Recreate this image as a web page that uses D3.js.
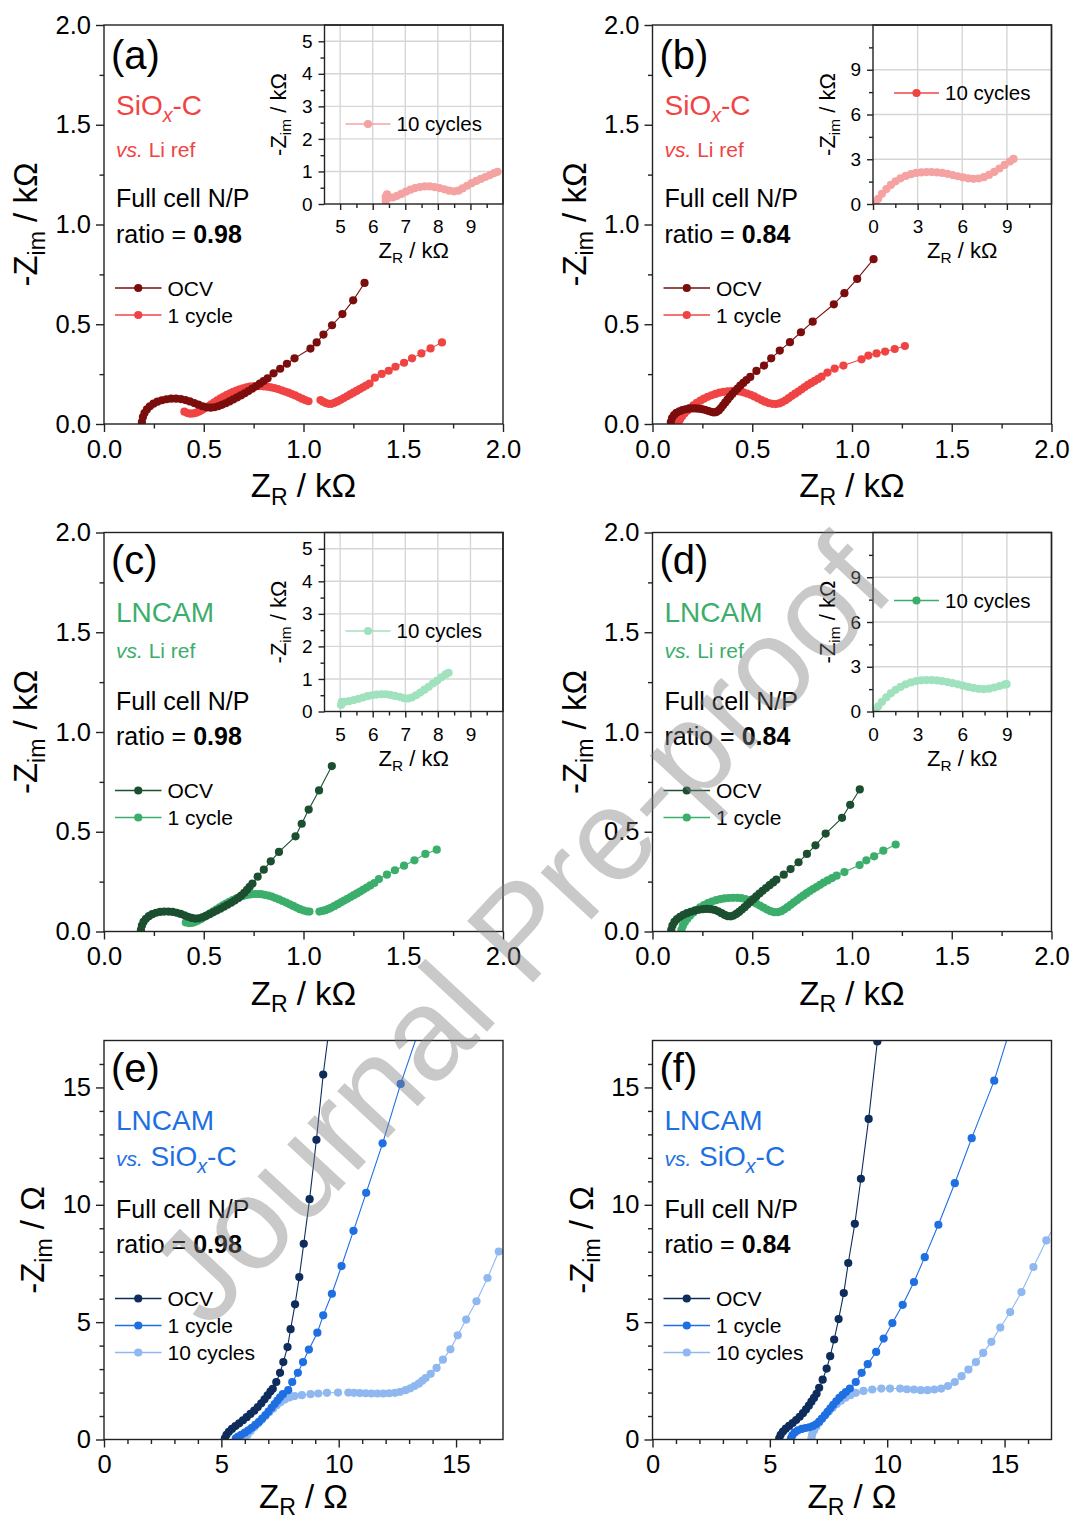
<!DOCTYPE html>
<html><head><meta charset="utf-8">
<script src="https://cdn.jsdelivr.net/npm/d3@7"></script>
<style>
html,body{margin:0;padding:0;background:#fff;}
svg{display:block;}
</style></head><body>
<svg id="chart" width="1074" height="1522"></svg>
<script>
// ---------------- DATA (kΩ for a-d, Ω for e-f) ----------------
const kOhmTicks = [0, 0.5, 1.0, 1.5, 2.0];
const kOhmMinor = [0.25, 0.75, 1.25, 1.75];
const ohmTicks = [0, 5, 10, 15];
const ohmMinor = [1,2,3,4,6,7,8,9,11,12,13,14,16];
const insetACxTicks = [5,6,7,8,9];
const insetACxMinor = [5.5,6.5,7.5,8.5,9.5];
const insetACyTicks = [0,1,2,3,4,5];
const insetACyMinor = [0.5,1.5,2.5,3.5,4.5];
const insetBDTicks = [0,3,6,9];
const insetBDMinor = [1.5,4.5,7.5,10.5];
const seriesNames = ['OCV', '1 cycle', '10 cycles'];

const a_OCV = [[0.190,0.010],[0.195,0.035],[0.203,0.055],[0.215,0.073],[0.230,0.089],[0.248,0.102],[0.268,0.112],[0.290,0.119],[0.313,0.124],[0.337,0.127],[0.361,0.127],[0.385,0.125],[0.408,0.120],[0.430,0.113],[0.452,0.105],[0.473,0.097],[0.494,0.089],[0.514,0.084],[0.534,0.082],[0.553,0.084],[0.572,0.089],[0.591,0.096],[0.610,0.104],[0.629,0.113],[0.648,0.123],[0.667,0.133],[0.686,0.143],[0.705,0.154],[0.724,0.165],[0.743,0.177],[0.762,0.189],[0.781,0.202],[0.800,0.215],[0.820,0.229],[0.850,0.254],[0.883,0.277],[0.917,0.302],[0.955,0.329],[1.035,0.378],[1.066,0.409],[1.100,0.448],[1.143,0.495],[1.195,0.551],[1.249,0.620],[1.306,0.707]];
const a_1cycle = [[0.403,0.062],[0.418,0.055],[0.433,0.052],[0.448,0.053],[0.463,0.057],[0.478,0.063],[0.493,0.071],[0.508,0.080],[0.523,0.089],[0.538,0.099],[0.553,0.109],[0.568,0.119],[0.584,0.128],[0.600,0.137],[0.616,0.146],[0.632,0.154],[0.648,0.161],[0.664,0.168],[0.680,0.174],[0.697,0.179],[0.714,0.184],[0.731,0.187],[0.748,0.189],[0.765,0.190],[0.782,0.190],[0.800,0.189],[0.818,0.187],[0.836,0.184],[0.854,0.180],[0.872,0.175],[0.890,0.169],[0.907,0.163],[0.924,0.157],[0.941,0.150],[0.958,0.143],[0.975,0.135],[0.992,0.127],[1.008,0.120],[1.025,0.114],null,[1.085,0.120],[1.098,0.112],[1.112,0.105],[1.126,0.101],[1.140,0.101],[1.155,0.106],[1.170,0.113],[1.186,0.121],[1.202,0.130],[1.218,0.139],[1.234,0.148],[1.250,0.157],[1.266,0.166],[1.282,0.175],[1.298,0.184],[1.314,0.193],[1.331,0.203],[1.358,0.232],[1.392,0.251],[1.427,0.267],[1.461,0.287],[1.504,0.307],[1.544,0.329],[1.591,0.354],[1.637,0.379],[1.694,0.409]];
const a_10cycles = [[6.40,0.10],[6.40,0.22],[6.44,0.30],[6.52,0.20],[6.62,0.20],[6.75,0.25],[6.88,0.31],[7.02,0.38],[7.16,0.44],[7.30,0.49],[7.45,0.52],[7.60,0.54],[7.75,0.54],[7.90,0.52],[8.05,0.49],[8.20,0.45],[8.35,0.41],[8.50,0.39],[8.63,0.41],[8.76,0.48],[8.90,0.56],[9.04,0.64],[9.18,0.71],[9.32,0.77],[9.46,0.83],[9.60,0.89],[9.73,0.95],[9.83,0.99]];

const b_OCV = [[0.092,0.010],[0.098,0.030],[0.108,0.045],[0.120,0.056],[0.135,0.064],[0.150,0.070],[0.166,0.074],[0.182,0.077],[0.198,0.078],[0.214,0.078],[0.230,0.077],[0.246,0.075],[0.262,0.071],[0.278,0.066],[0.294,0.061],[0.308,0.058],[0.320,0.060],[0.332,0.068],[0.343,0.080],[0.354,0.094],[0.365,0.108],[0.376,0.122],[0.388,0.136],[0.400,0.150],[0.413,0.164],[0.426,0.178],[0.440,0.192],[0.455,0.206],[0.471,0.220],[0.490,0.236],[0.521,0.266],[0.559,0.293],[0.595,0.329],[0.638,0.368],[0.689,0.410],[0.744,0.460],[0.803,0.513],[0.909,0.600],[0.962,0.656],[1.026,0.727],[1.108,0.826]];
const b_1cycle = [[0.130,0.005],[0.138,0.022],[0.148,0.038],[0.160,0.053],[0.174,0.067],[0.189,0.081],[0.205,0.094],[0.222,0.106],[0.240,0.117],[0.258,0.127],[0.277,0.136],[0.296,0.144],[0.316,0.151],[0.336,0.157],[0.356,0.161],[0.376,0.164],[0.396,0.165],[0.416,0.165],[0.436,0.163],[0.455,0.159],[0.474,0.153],[0.492,0.146],[0.510,0.138],[0.528,0.129],[0.546,0.120],[0.564,0.112],[0.582,0.105],[0.600,0.101],[0.618,0.100],[0.635,0.103],[0.651,0.110],[0.667,0.119],[0.683,0.130],[0.699,0.141],[0.715,0.152],[0.731,0.163],[0.747,0.174],[0.763,0.185],[0.779,0.196],[0.796,0.206],[0.813,0.216],[0.830,0.226],[0.848,0.237],[0.877,0.258],[0.913,0.278],[0.957,0.293],[1.048,0.324],[1.082,0.343],[1.123,0.354],[1.166,0.363],[1.214,0.376],[1.265,0.391]];
const b_10cycles = [[0.15,0.05],[0.35,0.35],[0.60,0.68],[0.90,1.00],[1.20,1.28],[1.52,1.52],[1.85,1.72],[2.20,1.88],[2.55,2.00],[2.90,2.08],[3.25,2.12],[3.60,2.14],[3.95,2.14],[4.30,2.12],[4.65,2.08],[5.00,2.02],[5.35,1.94],[5.70,1.86],[6.05,1.78],[6.40,1.72],[6.75,1.69],[7.10,1.71],[7.45,1.80],[7.80,1.95],[8.15,2.15],[8.50,2.38],[8.85,2.62],[9.20,2.85],[9.45,3.02]];

const c_OCV = [[0.185,0.008],[0.190,0.030],[0.198,0.048],[0.210,0.064],[0.225,0.077],[0.242,0.087],[0.261,0.094],[0.281,0.098],[0.302,0.100],[0.323,0.100],[0.344,0.098],[0.364,0.094],[0.384,0.088],[0.403,0.081],[0.421,0.074],[0.439,0.068],[0.457,0.065],[0.475,0.066],[0.493,0.071],[0.511,0.078],[0.529,0.087],[0.547,0.096],[0.565,0.105],[0.583,0.114],[0.601,0.124],[0.619,0.134],[0.637,0.144],[0.655,0.155],[0.672,0.167],[0.688,0.180],[0.703,0.194],[0.717,0.209],[0.730,0.224],[0.744,0.240],[0.770,0.275],[0.801,0.310],[0.836,0.352],[0.877,0.399],[0.960,0.477],[0.991,0.540],[1.026,0.611],[1.078,0.707],[1.142,0.829]];
const c_1cycle = [[0.410,0.045],[0.425,0.042],[0.440,0.043],[0.455,0.047],[0.470,0.054],[0.485,0.062],[0.500,0.071],[0.516,0.081],[0.532,0.091],[0.548,0.101],[0.564,0.111],[0.580,0.121],[0.596,0.131],[0.612,0.140],[0.628,0.149],[0.645,0.157],[0.662,0.165],[0.679,0.172],[0.697,0.178],[0.715,0.183],[0.733,0.186],[0.751,0.188],[0.769,0.188],[0.787,0.187],[0.805,0.184],[0.823,0.180],[0.841,0.175],[0.859,0.168],[0.877,0.161],[0.895,0.153],[0.913,0.145],[0.931,0.136],[0.948,0.128],[0.965,0.120],[0.982,0.112],[0.999,0.106],[1.016,0.101],[1.030,0.100],null,[1.080,0.100],[1.095,0.103],[1.110,0.107],[1.125,0.113],[1.140,0.120],[1.156,0.128],[1.172,0.137],[1.188,0.146],[1.204,0.155],[1.220,0.164],[1.236,0.173],[1.252,0.182],[1.268,0.191],[1.284,0.200],[1.300,0.210],[1.317,0.220],[1.335,0.231],[1.355,0.243],[1.378,0.263],[1.418,0.285],[1.458,0.307],[1.504,0.330],[1.556,0.357],[1.611,0.389],[1.668,0.410]];
const c_10cycles = [[5.03,0.20],[5.05,0.30],[5.15,0.30],[5.28,0.32],[5.42,0.35],[5.56,0.39],[5.70,0.43],[5.84,0.47],[5.98,0.50],[6.12,0.52],[6.26,0.53],[6.40,0.53],[6.54,0.51],[6.68,0.48],[6.82,0.45],[6.96,0.41],[7.08,0.40],[7.20,0.43],[7.33,0.50],[7.46,0.58],[7.59,0.67],[7.72,0.76],[7.85,0.86],[7.98,0.95],[8.11,1.05],[8.24,1.14],[8.33,1.19]];

const d_OCV = [[0.094,0.008],[0.100,0.030],[0.110,0.048],[0.123,0.062],[0.138,0.074],[0.155,0.084],[0.173,0.092],[0.192,0.099],[0.212,0.105],[0.232,0.109],[0.252,0.112],[0.272,0.113],[0.292,0.112],[0.311,0.108],[0.329,0.101],[0.346,0.092],[0.362,0.083],[0.377,0.077],[0.392,0.076],[0.406,0.080],[0.420,0.088],[0.434,0.098],[0.448,0.110],[0.462,0.122],[0.476,0.135],[0.490,0.148],[0.505,0.162],[0.520,0.176],[0.536,0.190],[0.552,0.204],[0.569,0.218],[0.587,0.232],[0.605,0.246],[0.621,0.260],[0.658,0.285],[0.692,0.313],[0.732,0.347],[0.774,0.389],[0.817,0.432],[0.868,0.491],[0.950,0.570],[0.991,0.635],[1.039,0.712]];
const d_1cycle = [[0.145,0.008],[0.152,0.028],[0.162,0.046],[0.174,0.063],[0.188,0.079],[0.204,0.094],[0.221,0.108],[0.239,0.121],[0.258,0.132],[0.278,0.142],[0.298,0.150],[0.319,0.157],[0.340,0.162],[0.361,0.166],[0.382,0.168],[0.403,0.169],[0.424,0.169],[0.445,0.167],[0.465,0.163],[0.484,0.157],[0.502,0.149],[0.520,0.140],[0.538,0.130],[0.556,0.120],[0.574,0.110],[0.592,0.102],[0.610,0.097],[0.628,0.097],[0.645,0.102],[0.661,0.111],[0.677,0.122],[0.693,0.134],[0.709,0.146],[0.725,0.158],[0.741,0.170],[0.757,0.181],[0.773,0.192],[0.789,0.203],[0.805,0.213],[0.822,0.223],[0.840,0.234],[0.858,0.245],[0.878,0.256],[0.900,0.268],[0.923,0.280],[0.962,0.298],[1.038,0.333],[1.072,0.357],[1.111,0.377],[1.157,0.405],[1.219,0.436]];
const d_10cycles = [[0.15,0.05],[0.35,0.35],[0.60,0.65],[0.90,0.95],[1.20,1.22],[1.52,1.45],[1.85,1.65],[2.20,1.82],[2.55,1.95],[2.90,2.04],[3.25,2.09],[3.60,2.11],[3.95,2.11],[4.30,2.08],[4.65,2.03],[5.00,1.97],[5.35,1.90],[5.70,1.82],[6.05,1.73],[6.40,1.65],[6.75,1.58],[7.10,1.52],[7.45,1.50],[7.80,1.53],[8.15,1.61],[8.50,1.71],[8.85,1.80],[8.98,1.83]];

const e_OCV = [[5.15,0.05],[5.22,0.20],[5.32,0.33],[5.45,0.45],[5.60,0.57],[5.76,0.69],[5.92,0.82],[6.08,0.95],[6.24,1.09],[6.40,1.23],[6.55,1.38],[6.70,1.54],[6.84,1.71],[6.97,1.88],[7.09,2.04],[7.19,2.16],[7.34,2.45],[7.50,2.84],[7.64,3.30],[7.82,3.94],[7.95,4.70],[8.14,5.76],[8.32,6.92],[8.51,8.34],[8.76,10.24],[9.05,12.77],[9.34,15.55],[9.72,18.50]];
const e_1cycle = [[5.62,0.05],[5.72,0.12],[5.85,0.20],[6.00,0.29],[6.15,0.39],[6.30,0.50],[6.45,0.62],[6.60,0.75],[6.74,0.89],[6.88,1.04],[7.01,1.19],[7.14,1.35],[7.27,1.51],[7.39,1.66],[7.50,1.80],[7.62,1.93],[7.85,2.10],[8.02,2.45],[8.26,2.84],[8.48,3.30],[8.73,3.83],[9.09,4.55],[9.34,5.29],[9.71,6.21],[10.12,7.39],[10.63,8.89],[11.17,10.51],[11.87,12.62],[12.64,15.15],[13.78,18.50]];
const e_10cycles = [[6.02,0.05],[6.12,0.20],[6.25,0.36],[6.40,0.52],[6.56,0.68],[6.72,0.84],[6.88,1.00],[7.04,1.16],[7.20,1.31],[7.36,1.46],[7.52,1.59],[7.70,1.70],[7.90,1.79],[8.12,1.85],[8.43,1.89],[8.80,1.93],[9.13,1.96],[9.50,1.99],[9.97,2.00],null,[10.41,2.00],[10.65,1.99],[10.90,1.98],[11.15,1.97],[11.40,1.96],[11.65,1.96],[11.90,1.96],[12.15,1.97],[12.40,1.99],[12.62,2.03],[12.85,2.10],[13.05,2.18],[13.23,2.28],[13.41,2.38],[13.56,2.50],[13.70,2.62],[13.92,2.80],[14.17,3.05],[14.44,3.40],[14.76,3.84],[15.07,4.44],[15.43,5.11],[15.87,5.89],[16.34,6.88],[16.82,8.01]];

const f_OCV = [[5.40,0.05],[5.46,0.20],[5.56,0.34],[5.68,0.46],[5.82,0.58],[5.97,0.70],[6.12,0.83],[6.27,0.97],[6.41,1.12],[6.54,1.28],[6.66,1.44],[6.77,1.61],[6.88,1.77],[6.99,1.95],[7.10,2.20],[7.25,2.55],[7.42,3.02],[7.57,3.55],[7.74,4.26],[7.93,5.13],[8.15,6.24],[8.34,7.52],[8.62,9.19],[8.88,11.11],[9.21,13.66],[9.58,16.96],[9.75,18.50]];
const f_1cycle = [[5.90,0.05],[5.96,0.18],[6.06,0.30],[6.20,0.39],[6.36,0.45],[6.52,0.49],[6.68,0.52],[6.83,0.57],[6.97,0.65],[7.10,0.76],[7.22,0.89],[7.34,1.03],[7.46,1.18],[7.58,1.33],[7.70,1.48],[7.83,1.63],[7.96,1.77],[8.10,1.90],[8.24,2.02],[8.41,2.17],[8.66,2.45],[8.91,2.84],[9.17,3.21],[9.53,3.73],[9.85,4.30],[10.22,4.96],[10.66,5.74],[11.14,6.71],[11.60,7.77],[12.18,9.15],[12.88,10.92],[13.60,12.84],[14.56,15.29],[15.55,18.50]];
const f_10cycles = [[6.77,0.05],[6.80,0.20],[6.88,0.38],[6.98,0.55],[7.10,0.72],[7.23,0.88],[7.37,1.04],[7.52,1.20],[7.68,1.36],[7.85,1.51],[8.03,1.65],[8.22,1.78],[8.43,1.89],[8.66,1.99],[8.99,2.07],[9.36,2.13],[9.75,2.17],[10.12,2.17],[10.55,2.17],[10.84,2.14],[11.14,2.13],[11.43,2.10],[11.72,2.10],[12.01,2.13],[12.30,2.17],[12.59,2.28],[12.88,2.45],[13.17,2.70],[13.46,2.98],[13.78,3.30],[14.09,3.69],[14.44,4.16],[14.82,4.77],[15.24,5.43],[15.72,6.28],[16.23,7.35],[16.78,8.48],[17.30,9.40]];

// ---------------- STYLE / LAYOUT ----------------
const FONT = '"Liberation Sans", Arial, Helvetica, sans-serif';
const PW = 399, PH = 399, IW = 178.5, IH = 179, R = 4.1;
const RED = {ocv:'#7b0d0d', c1:'#f04444', c10:'#f5a2a2'};
const GRN = {ocv:'#1b4f30', c1:'#3bae6b', c10:'#9fe2bd'};
const BLU = {ocv:'#0e2d5c', c1:'#1e6fe2', c10:'#8fb8f1'};
const AX = '#222';
const TICK_FS = 25.5, TITLE_FS = 33, LABEL_FS = 40;

const svg = d3.select('#chart');

function rich(g, x, y, size, segs, attrs) {
  const t = g.append('text').attr('x', x).attr('y', y)
    .attr('font-family', FONT).attr('font-size', size);
  if (attrs) Object.entries(attrs).forEach(([k,v]) => t.attr(k, v));
  let shift = 0;
  segs.forEach(s => {
    const sz = s.size || size;
    const ts = t.append('tspan').text(s.t);
    let target = 0, fs = sz;
    if (s.sub) { fs = sz * 0.7; target = sz * 0.24; }
    ts.attr('font-size', fs);
    if (target !== shift) { ts.attr('dy', target - shift); shift = target; }
    if (s.italic) ts.attr('font-style', 'italic');
    if (s.bold) ts.attr('font-weight', 'bold');
  });
  return t;
}

function drawSeries(gp, data, color, x, y) {
  const line = d3.line().defined(d => d !== null).x(d => x(d[0])).y(d => y(d[1]));
  gp.append('path').datum(data).attr('d', line).attr('fill', 'none')
    .attr('stroke', color).attr('stroke-width', 1.1);
  gp.append('g').selectAll('circle').data(data.filter(d => d !== null)).join('circle')
    .attr('cx', d => x(d[0])).attr('cy', d => y(d[1])).attr('r', R).attr('fill', color);
}

function styleAxis(sel, fs) {
  sel.select('.domain').remove();
  sel.attr('font-family', FONT).attr('font-size', fs);
  sel.selectAll('line').attr('stroke', AX).attr('stroke-width', 1.4);
  sel.selectAll('text').attr('fill', '#000');
}

function legendRow(g, x0, x1, y, color, label, fs) {
  g.append('line').attr('x1', x0).attr('x2', x1).attr('y1', y).attr('y2', y)
    .attr('stroke', color).attr('stroke-width', 1.3);
  g.append('circle').attr('cx', (x0 + x1) / 2).attr('cy', y).attr('r', R).attr('fill', color);
  g.append('text').attr('x', x1 + 6).attr('y', y).attr('dy', '0.36em')
    .attr('font-family', FONT).attr('font-size', fs).attr('fill', '#000').text(label);
}

let clipN = 0;
function drawInset(g, ins) {
  const gi = g.append('g').attr('transform', `translate(${PW - IW},0)`);
  gi.append('rect').attr('width', IW).attr('height', IH).attr('fill', '#fff');
  const x = d3.scaleLinear().domain(ins.xDomain).range([0, IW]);
  const y = d3.scaleLinear().domain(ins.yDomain).range([IH, 0]);
  gi.append('g').selectAll('line').data(ins.xGrid).join('line')
    .attr('x1', d => x(d)).attr('x2', d => x(d)).attr('y1', 0).attr('y2', IH)
    .attr('stroke', '#d6d6d6').attr('stroke-width', 1.4);
  gi.append('g').selectAll('line').data(ins.yGrid).join('line')
    .attr('y1', d => y(d)).attr('y2', d => y(d)).attr('x1', 0).attr('x2', IW)
    .attr('stroke', '#d6d6d6').attr('stroke-width', 1.4);
  const cid = 'clipi' + (clipN++);
  gi.append('clipPath').attr('id', cid).append('rect').attr('width', IW).attr('height', IH);
  const gp = gi.append('g').attr('clip-path', `url(#${cid})`);
  drawSeries(gp, ins.data, ins.color, x, y);
  const fmt = d3.format('d');
  gi.append('g').attr('transform', `translate(0,${IH})`)
    .call(d3.axisBottom(x).tickValues(ins.xMinor).tickSize(4).tickFormat('')).call(s => styleAxis(s, 19));
  gi.append('g').attr('transform', `translate(0,${IH})`)
    .call(d3.axisBottom(x).tickValues(ins.xTicks).tickSize(6).tickPadding(10).tickFormat(fmt)).call(s => styleAxis(s, 19));
  gi.append('g').call(d3.axisLeft(y).tickValues(ins.yMinor).tickSize(4).tickFormat('')).call(s => styleAxis(s, 19));
  gi.append('g').call(d3.axisLeft(y).tickValues(ins.yTicks).tickSize(6).tickPadding(6).tickFormat(fmt)).call(s => styleAxis(s, 19));
  gi.append('rect').attr('width', IW).attr('height', IH).attr('fill', 'none')
    .attr('stroke', AX).attr('stroke-width', 1.4);
  rich(gi, IW / 2, IH + 54, 22, [{t:'Z'},{t:'R',sub:true},{t:' / kΩ'}], {'text-anchor':'middle'});
  rich(gi, 0, 0, 22, [{t:'-Z'},{t:'im',sub:true},{t:' / kΩ'}],
    {'text-anchor':'middle', transform:`translate(-38.5,${IH/2}) rotate(-90)`});
  legendRow(gi, 21, 66, ins.legY, ins.legColor, seriesNames[2], 20.5);
}

function drawPanel(p) {
  const g = svg.append('g').attr('transform', `translate(${p.left},${p.top})`);
  const x = d3.scaleLinear().domain(p.xDomain).range([0, PW]);
  const y = d3.scaleLinear().domain(p.yDomain).range([PH, 0]);
  const cid = 'clip' + (clipN++);
  g.append('clipPath').attr('id', cid).append('rect').attr('width', PW).attr('height', PH);
  const gp = g.append('g').attr('clip-path', `url(#${cid})`);
  p.series.forEach(s => drawSeries(gp, s.data, s.color, x, y));
  if (p.inset) drawInset(g, p.inset);
  g.append('g').attr('transform', `translate(0,${PH})`)
    .call(d3.axisBottom(x).tickValues(p.xMinor).tickSize(4.5).tickFormat('')).call(s => styleAxis(s, TICK_FS));
  g.append('g').attr('transform', `translate(0,${PH})`)
    .call(d3.axisBottom(x).tickValues(p.xTicks).tickSize(8).tickPadding(7.4).tickFormat(p.fmt)).call(s => styleAxis(s, TICK_FS));
  g.append('g').call(d3.axisLeft(y).tickValues(p.yMinor).tickSize(4.5).tickFormat('')).call(s => styleAxis(s, TICK_FS));
  g.append('g').call(d3.axisLeft(y).tickValues(p.yTicks).tickSize(8).tickPadding(5).tickFormat(p.fmt)).call(s => styleAxis(s, TICK_FS));
  g.append('rect').attr('width', PW).attr('height', PH).attr('fill', 'none')
    .attr('stroke', AX).attr('stroke-width', 1.4);
  rich(g, PW / 2, PH + p.xTitleDy, TITLE_FS, [{t:'Z'},{t:'R',sub:true},{t:' / ' + p.unit}], {'text-anchor':'middle'});
  rich(g, 0, 0, TITLE_FS, [{t:'-Z'},{t:'im',sub:true},{t:' / ' + p.unit}],
    {'text-anchor':'middle', transform:`translate(${p.yTitleX},${PH/2}) rotate(-90)`});
  const o = p.off;
  rich(g, 7, o.lab, LABEL_FS, [{t:p.label}], {fill:'#000'});
  rich(g, 12, o.mat, 28, p.material, {fill:p.colors.c1});
  rich(g, 12, o.vs, 21, p.vs, {fill:p.colors.c1});
  rich(g, 12, o.full, 25, [{t:'Full cell N/P'}], {fill:'#000'});
  rich(g, 12, o.ratio, 25, [{t:'ratio = '},{t:p.ratio, bold:true}], {fill:'#000'});
  p.legend.forEach((L, i) => legendRow(g, 11, 57.5, o.leg[i], L.color, L.name, 21));
}

const row1 = {lab:43.5, mat:90, vs:132, full:182, ratio:218, leg:[263,290]};
const row2 = {lab:41, mat:89.5, vs:125.5, full:177.5, ratio:212.5, leg:[258,285,312]};
const SiOx = [{t:'SiO'},{t:'x',sub:true,italic:true},{t:'-C'}];
const vsLi = [{t:'vs.',italic:true},{t:' Li ref'}];
const vsSiOx = [{t:'vs.',italic:true},{t:' SiO',size:28},{t:'x',sub:true,italic:true,size:28},{t:'-C',size:28}];
const fmtK = d3.format('.1f'), fmtO = d3.format('d');

function kPanel(id, left, top, off, colors, material, vs, ratio, ocv, c1, c10, insetType) {
  const insAC = insetType === 'AC';
  drawPanel({
    id, left, top, off, colors, material, vs, ratio, label:`(${id})`,
    xDomain:[0,2], yDomain:[0,2], xTicks:kOhmTicks, xMinor:kOhmMinor, yTicks:kOhmTicks, yMinor:kOhmMinor,
    fmt:fmtK, unit:'kΩ', yTitleX:-67, xTitleDy:73,
    series:[{data:c1, color:colors.c1},{data:ocv, color:colors.ocv}],
    legend:[{name:seriesNames[0], color:colors.ocv},{name:seriesNames[1], color:colors.c1}],
    inset: insAC ? {
      xDomain:[4.52,10], yDomain:[0,5.5], xTicks:insetACxTicks, xMinor:insetACxMinor,
      yTicks:insetACyTicks, yMinor:insetACyMinor, xGrid:insetACxTicks, yGrid:[1,2,3,4,5],
      data:c10, color:colors.c10, legColor:colors.c10, legY: id === 'a' ? 99 : 98.5
    } : {
      xDomain:[0,12], yDomain:[0,12], xTicks:insetBDTicks, xMinor:insetBDMinor,
      yTicks:insetBDTicks, yMinor:insetBDMinor, xGrid:[3,6,9], yGrid:[3,6,9],
      data:c10, color:colors.c10, legColor:colors.c1, legY: 68
    }
  });
}

kPanel('a', 104, 25, row1, RED, SiOx, vsLi, '0.98', a_OCV, a_1cycle, a_10cycles, 'AC');
kPanel('b', 652.5, 25, row1, RED, SiOx, vsLi, '0.84', b_OCV, b_1cycle, b_10cycles, 'BD');
kPanel('c', 104, 532.5, row2, GRN, [{t:'LNCAM'}], vsLi, '0.98', c_OCV, c_1cycle, c_10cycles, 'AC');
kPanel('d', 652.5, 532.5, row2, GRN, [{t:'LNCAM'}], vsLi, '0.84', d_OCV, d_1cycle, d_10cycles, 'BD');

function oPanel(id, left, ratio, ocv, c1, c10) {
  drawPanel({
    id, left, top:1040.5, off:row2, colors:BLU, material:[{t:'LNCAM'}], vs:vsSiOx, ratio, label:`(${id})`,
    xDomain:[0,17], yDomain:[0,17], xTicks:ohmTicks, xMinor:ohmMinor, yTicks:ohmTicks, yMinor:ohmMinor,
    fmt:fmtO, unit:'Ω', yTitleX:-60, xTitleDy:68,
    series:[{data:c10, color:BLU.c10},{data:c1, color:BLU.c1},{data:ocv, color:BLU.ocv}],
    legend:[{name:seriesNames[0], color:BLU.ocv},{name:seriesNames[1], color:BLU.c1},{name:seriesNames[2], color:BLU.c10}],
    inset:null
  });
}
oPanel('e', 104, '0.98', e_OCV, e_1cycle, e_10cycles);
oPanel('f', 652.5, '0.84', f_OCV, f_1cycle, f_10cycles);

// watermark
svg.append('text').attr('transform', 'translate(553,961) rotate(-47)')
  .attr('text-anchor', 'middle').attr('font-family', FONT).attr('font-size', 131)
  .attr('fill', '#7f7f7f').attr('fill-opacity', 0.42).text('Journal Pre-proof');
</script>
</body></html>
